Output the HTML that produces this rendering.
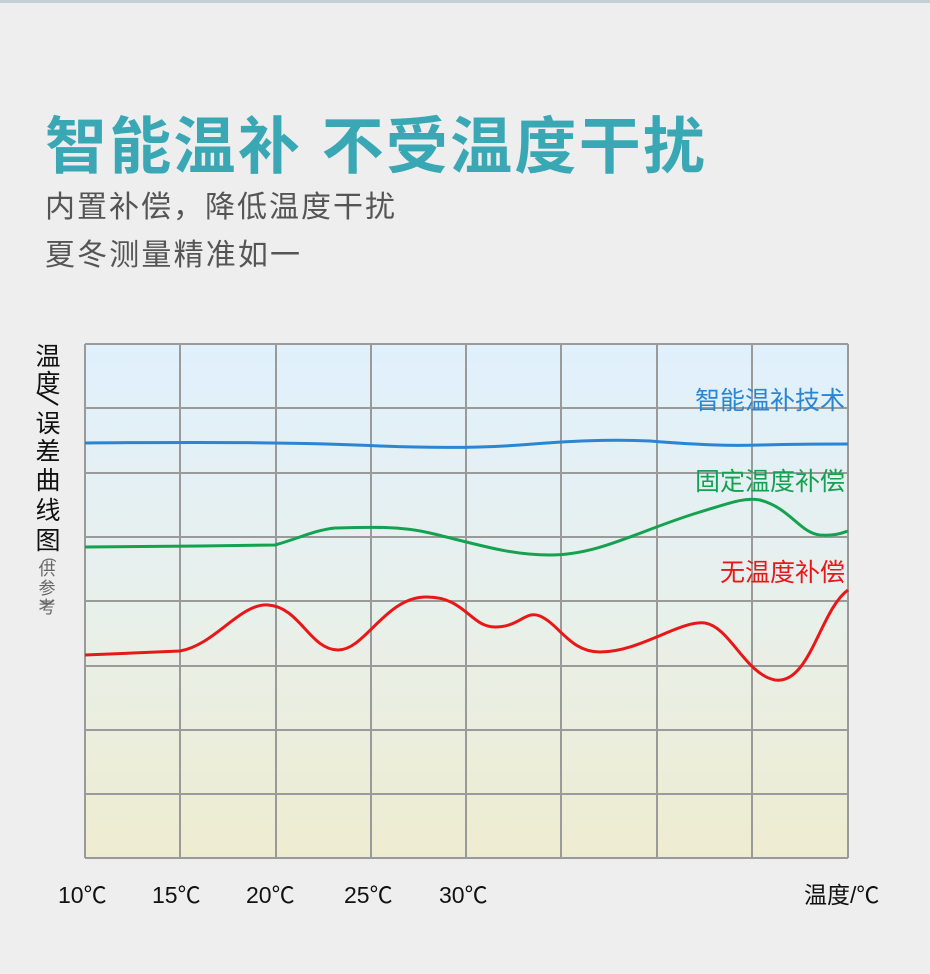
<!DOCTYPE html>
<html><head><meta charset="utf-8"><style>
html,body{margin:0;padding:0;background:#eeeeee;}
svg{display:block;}
text{font-family:"Liberation Sans","Noto Sans CJK SC",sans-serif;}
</style></head><body>
<svg width="930" height="974" viewBox="0 0 930 974" xmlns="http://www.w3.org/2000/svg">
<defs>
<linearGradient id="bg" x1="0" y1="0" x2="0" y2="1">
<stop offset="0" stop-color="#e0f0fc"/>
<stop offset="0.5" stop-color="#e8f0ec"/>
<stop offset="1" stop-color="#eeecd0"/>
</linearGradient>
</defs>
<rect width="930" height="974" fill="#eeeeee"/>
<rect width="930" height="3" fill="#c2cfd4"/>
<text x="45" y="168" font-size="62" font-weight="bold" fill="#3aa8b4" textLength="660" lengthAdjust="spacing">智能温补 不受温度干扰</text>
<text x="45" y="217" font-size="30" fill="#555" textLength="350" lengthAdjust="spacing">内置补偿，降低温度干扰</text>
<text x="45" y="265" font-size="30" fill="#555" textLength="255" lengthAdjust="spacing">夏冬测量精准如一</text>

<rect x="85" y="344" width="763" height="514" fill="url(#bg)"/>
<g stroke="#9a9a9a" stroke-width="2" fill="none">
<path d="M85 344V858M180 344V858M276 344V858M371 344V858M466 344V858M561 344V858M657 344V858M752 344V858M848 344V858"/>
<path d="M85 344H848M85 408H848M85 473H848M85 537H848M85 601H848M85 666H848M85 730H848M85 794H848M85 858H848"/>
</g>
<g fill="none" stroke-width="3">
<path stroke="#2a86d4" d="M85 443 C200 442 300 442 380 446 C430 448 480 448 520 445 C570 441 610 439 650 441 C700 445 730 446 760 445 C800 444 830 444 848 444"/>
<path stroke="#15a250" d="M85 547 L200 546 L275 545 C300 538 315 530 335 528 C370 527 400 526 430 533 C480 545 510 555 550 555 C600 555 640 530 700 512 C730 503 745 497 760 500 C790 508 800 533 820 535 C835 536 842 533 848 531"/>
<path stroke="#e81818" d="M85 655 L180 651 C215 645 240 603 268 605 C300 607 310 650 338 650 C365 650 385 598 425 597 C465 596 470 627 495 627 C520 627 525 610 540 616 C560 625 570 652 600 652 C640 652 680 620 705 623 C730 627 745 674 775 680 C810 685 820 610 848 590"/>
</g>
<text x="845" y="409" font-size="25" fill="#2a86d4" text-anchor="end">智能温补技术</text>
<text x="845" y="490" font-size="25" fill="#15a250" text-anchor="end">固定温度补偿</text>
<text x="845" y="581" font-size="25" fill="#e81818" text-anchor="end">无温度补偿</text>

<g font-size="25" fill="#111" text-anchor="middle">
<text x="48" y="365">温</text><text x="48" y="392">度</text>
<path d="M38 393 L58 405" stroke="#111" stroke-width="2"/>
<text x="48" y="432">误</text><text x="48" y="460">差</text><text x="48" y="489">曲</text><text x="48" y="519">线</text><text x="48" y="549">图</text>
</g>
<g font-size="17" fill="#666" text-anchor="middle">
<text x="46" y="560" transform="rotate(90 46 560)" font-size="14">(</text>
<text x="47" y="575">供</text><text x="47" y="594">参</text><text x="47" y="613">考</text>
<path d="M40 600 Q47 607 54 600" stroke="#666" stroke-width="1.5" fill="none"/>
</g>

<g font-size="23" fill="#111">
<text x="58" y="903">10℃</text>
<text x="152" y="903">15℃</text>
<text x="246" y="903">20℃</text>
<text x="344" y="903">25℃</text>
<text x="439" y="903">30℃</text>
<text x="804" y="903">温度/℃</text>
</g>
</svg>
</body></html>
